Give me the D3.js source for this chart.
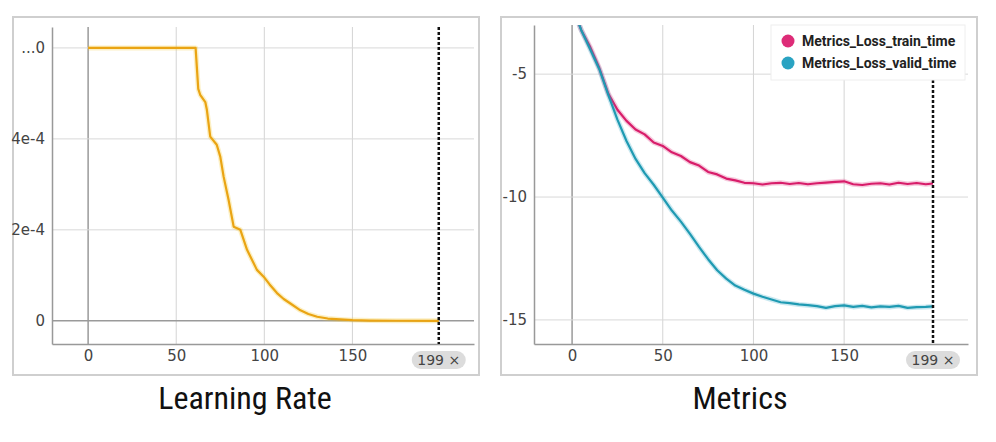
<!DOCTYPE html>
<html>
<head>
<meta charset="utf-8">
<script src="https://cdn.jsdelivr.net/npm/d3@7"></script>
<style>
  body { margin: 0; background: #fff; }
  svg { display: block; }
</style>
</head>
<body>
<svg id="chart" width="996" height="442"></svg>
<script>
// learning rate
var lrSteps = [0, 20, 40, 61, 62.5, 63.6, 66.5, 67.4, 69.3, 73, 75, 76.9, 79.7, 82.6, 86.4, 90.2, 95.8, 99.6, 103, 107.2, 111, 114.8, 120.5, 125, 130, 136, 143, 150, 160, 175, 199];
var lrValues = [6e-4, 6e-4, 6e-4, 6e-4, 5.1e-4, 4.97e-4, 4.81e-4, 4.64e-4, 4.05e-4, 3.87e-4, 3.61e-4, 3.17e-4, 2.66e-4, 2.07e-4, 2.0e-4, 1.56e-4, 1.12e-4, 0.97e-4, 0.8e-4, 0.61e-4, 0.48e-4, 0.38e-4, 0.23e-4, 0.15e-4, 0.09e-4, 0.05e-4, 0.03e-4, 0.015e-4, 0.005e-4, 0.001e-4, 0];

// metrics
var metricSteps = [0, 5, 10, 15, 20, 25, 30, 35, 40, 45, 50, 55, 60, 65, 70, 75, 80, 85, 90, 95, 100, 105, 110, 115, 120, 125, 130, 135, 140, 145, 150, 155, 160, 165, 170, 175, 180, 185, 190, 195, 199];
var trainLoss = [-2.2, -3.2, -3.9, -4.75, -5.8, -6.45, -6.9, -7.25, -7.45, -7.78, -7.92, -8.18, -8.33, -8.58, -8.72, -8.98, -9.08, -9.25, -9.32, -9.42, -9.44, -9.49, -9.44, -9.42, -9.47, -9.43, -9.48, -9.44, -9.41, -9.38, -9.36, -9.48, -9.51, -9.46, -9.44, -9.49, -9.42, -9.47, -9.43, -9.48, -9.45];
var validLoss = [-2.2, -3.2, -4.0, -4.8, -5.85, -6.85, -7.72, -8.45, -9.03, -9.5, -10.02, -10.55, -11.0, -11.5, -12.03, -12.53, -12.98, -13.32, -13.6, -13.77, -13.93, -14.06, -14.17, -14.28, -14.32, -14.37, -14.4, -14.44, -14.51, -14.44, -14.41, -14.47, -14.43, -14.49, -14.45, -14.47, -14.43, -14.51, -14.48, -14.47, -14.45];

var seriesNames = ["Metrics_Loss_train_time", "Metrics_Loss_valid_time"];
var seriesColors = ["#dd2c78", "#2aa3c2"];
var lineColors = ["#d81d6a", "#1f9ab2"];

var lrTicks = [0, 2e-4, 4e-4, 6e-4];
var lrTickLabels = ["0", "2e-4", "4e-4", "...0"];
var metricTicks = [-15, -10, -5];
var stepTicks = [0, 50, 100, 150];
var lastStep = 199;

var svg = d3.select("#chart");
var font = "'DejaVu Sans', sans-serif";

function panel(opt) {
  var g = svg.append("g");

  // outer frame
  g.append("rect")
    .attr("x", opt.box[0]).attr("y", opt.box[1])
    .attr("width", opt.box[2]).attr("height", opt.box[3])
    .attr("fill", "#fff").attr("stroke", "#cfcfcf").attr("stroke-width", 2);

  var x = d3.scaleLinear().domain(opt.xDomain).range([opt.left, opt.right]);
  var y = d3.scaleLinear().domain(opt.yDomain).range([opt.bottom, opt.top]);

  var clipId = "clip" + opt.id;
  g.append("clipPath").attr("id", clipId)
    .append("rect")
    .attr("x", opt.left).attr("y", opt.top)
    .attr("width", opt.right - opt.left).attr("height", opt.bottom - opt.top);

  // grid lines
  g.selectAll(".vgrid").data(stepTicks).enter().append("line")
    .attr("x1", d => x(d)).attr("x2", d => x(d))
    .attr("y1", opt.top).attr("y2", opt.bottom)
    .attr("stroke", d => d === 0 ? "#9a9a9a" : "#d4d4d4")
    .attr("stroke-width", d => d === 0 ? 1.5 : 1);

  g.selectAll(".hgrid").data(opt.yTicks).enter().append("line")
    .attr("x1", opt.left).attr("x2", opt.right)
    .attr("y1", d => y(d)).attr("y2", d => y(d))
    .attr("stroke", d => d === 0 ? "#9a9a9a" : "#d8d8d8")
    .attr("stroke-width", d => d === 0 ? 1.5 : 1);

  // axes
  var yAxis = g.append("g")
    .attr("transform", "translate(" + opt.left + ",0)")
    .call(d3.axisLeft(y).tickValues(opt.yTicks).tickSize(0).tickPadding(7)
      .tickFormat((d, i) => opt.yLabels[i]));
  yAxis.select(".domain").attr("stroke", "#999").attr("stroke-width", 1.5);
  yAxis.selectAll(".tick text")
    .attr("font-size", 15).attr("font-family", font).attr("fill", "#444");

  var xAxis = g.append("g")
    .attr("transform", "translate(0," + opt.bottom + ")")
    .call(d3.axisBottom(x).tickValues(stepTicks).tickSize(0).tickPadding(6));
  xAxis.select(".domain").attr("stroke", "#999").attr("stroke-width", 1.5);
  xAxis.selectAll(".tick text")
    .attr("font-size", 15).attr("font-family", font).attr("fill", "#444");

  // lines
  var line = d3.line().x(d => x(d[0])).y(d => y(d[1]));
  var lines = g.append("g").attr("clip-path", "url(#" + clipId + ")");
  opt.series.forEach(function (s) {
    var pts = opt.steps.map((st, i) => [st, s.values[i]]);
    lines.append("path").datum(pts)
      .attr("fill", "none").attr("stroke", s.halo).attr("stroke-opacity", 0.25)
      .attr("stroke-width", 5).attr("stroke-linejoin", "round").attr("d", line);
    lines.append("path").datum(pts)
      .attr("fill", "none").attr("stroke", s.color)
      .attr("stroke-width", 2.2).attr("stroke-linejoin", "round").attr("d", line);
  });

  // cursor at last step
  g.append("line")
    .attr("x1", x(lastStep)).attr("x2", x(lastStep))
    .attr("y1", opt.top).attr("y2", opt.bottom)
    .attr("stroke", "#111").attr("stroke-width", 2.5).attr("stroke-dasharray", "3,2");

  var badge = g.append("g").attr("transform", "translate(" + x(lastStep) + "," + (opt.bottom + 16) + ")");
  badge.append("rect").attr("x", -27).attr("y", -9).attr("width", 54).attr("height", 18)
    .attr("rx", 9).attr("fill", "#dcdcdc");
  badge.append("text").attr("text-anchor", "middle").attr("dy", "0.35em")
    .attr("font-family", font).attr("font-size", 14).attr("fill", "#444")
    .text(lastStep + " \u00d7");

  // title
  svg.append("text")
    .attr("x", opt.titleX).attr("y", 409)
    .attr("text-anchor", "middle")
    .style("font-family", "'Liberation Sans Narrow', 'Roboto Condensed', 'Roboto', sans-serif")
    .style("font-size", "32px").attr("fill", "#111")
    .text(opt.title);

  return { g: g, x: x, y: y };
}

panel({
  id: "lr", box: [13, 17, 466, 358],
  left: 52, right: 474, top: 27, bottom: 344,
  xDomain: [-20.5, 219], yDomain: [-0.51e-4, 6.46e-4],
  yTicks: lrTicks, yLabels: lrTickLabels,
  steps: lrSteps,
  series: [{ values: lrValues, color: "#eaa413", halo: "#f5c518" }],
  title: "Learning Rate", titleX: 245
});

var right = panel({
  id: "metrics", box: [501, 17, 476, 358],
  left: 534, right: 968, top: 25, bottom: 344,
  xDomain: [-21, 218.3], yDomain: [-15.98, -3.0],
  yTicks: metricTicks, yLabels: metricTicks.map(String),
  steps: metricSteps,
  series: [
    { values: trainLoss, color: lineColors[0], halo: seriesColors[0] },
    { values: validLoss, color: lineColors[1], halo: seriesColors[1] }
  ],
  title: "Metrics", titleX: 740
});

// legend
var legend = right.g.append("g").attr("transform", "translate(771,25)");
legend.append("rect").attr("width", 194).attr("height", 55)
  .attr("fill", "#fff").attr("stroke", "#eee");
seriesNames.forEach(function (name, i) {
  var row = legend.append("g").attr("transform", "translate(17," + (16 + i * 22) + ")");
  row.append("circle").attr("r", 6.5).attr("fill", seriesColors[i]);
  row.append("text").attr("x", 14).attr("dy", "0.35em")
    .style("font-family", "'Liberation Sans Narrow', 'Roboto', sans-serif")
    .style("font-size", "14px").style("font-weight", "bold").attr("fill", "#222")
    .text(name);
});
</script>
</body>
</html>
